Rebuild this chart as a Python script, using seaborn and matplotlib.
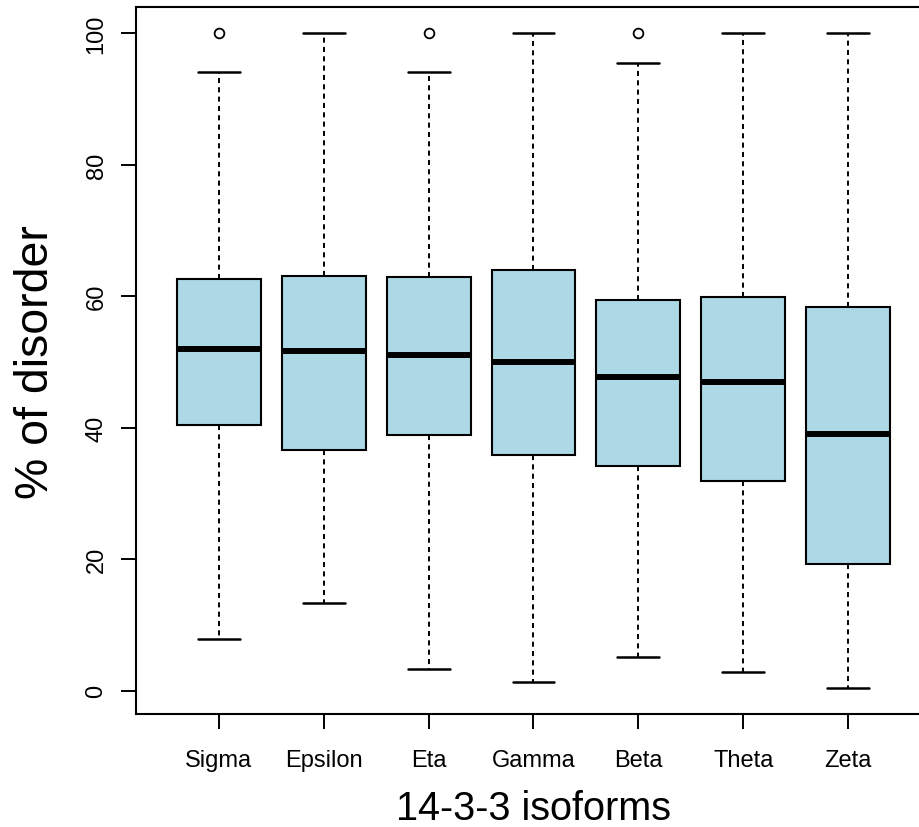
import numpy as np
import pandas as pd
import seaborn as sns
import matplotlib.pyplot as plt

# isoforms in plotting order
isoforms = ["Sigma", "Epsilon", "Eta", "Gamma", "Beta", "Theta", "Zeta"]

# box summaries (% of disorder)
whisker_lo = [7.9, 13.4, 3.25, 1.4, 5.2, 2.9, 0.4]
q1 = [40.4, 36.6, 38.9, 35.8, 34.2, 31.9, 19.3]
median = [51.9, 51.7, 51.1, 49.9, 47.7, 47.0, 39.0]
q3 = [62.6, 63.0, 62.9, 64.0, 59.4, 59.8, 58.4]
whisker_hi = [94.1, 100.0, 94.0, 100.0, 95.4, 100.0, 100.0]
outliers = [100.0, None, 100.0, None, 100.0, None, None]

# nine values per isoform whose quartiles match the summaries above
rows = []
for i, name in enumerate(isoforms):
    last = outliers[i] if outliers[i] is not None else whisker_hi[i]
    vals = [whisker_lo[i], q1[i], q1[i], median[i], median[i],
            q3[i], q3[i], whisker_hi[i], last]
    for v in vals:
        rows.append({"isoform": name, "disorder": v})
df = pd.DataFrame(rows)

sns.set_style("ticks")
plt.rcParams['font.family'] = ['Liberation Sans', 'DejaVu Sans']

fig = plt.figure(figsize=(9.19, 8.28), dpi=100)
ax = fig.add_axes([136 / 919, 113 / 828, 795 / 919, 706.7 / 828])

sns.boxplot(data=df, x="isoform", y="disorder", order=isoforms,
            color="lightblue", saturation=1, linecolor="black",
            linewidth=1.5, width=0.8, whis=1.5, ax=ax,
            medianprops=dict(linewidth=4.3, color="black"),
            whiskerprops=dict(linestyle=(0, (2.6, 2.2)), linewidth=1.4, color="black"),
            capprops=dict(linewidth=1.8, color="black"),
            flierprops=dict(marker="o", markerfacecolor="none",
                            markeredgecolor="black", markersize=7,
                            markeredgewidth=1.3))

ax.set_xlim(-0.788, 6.788)
ax.set_ylim(-3.54, 103.9)
ax.set_yticks([0, 20, 40, 60, 80, 100])

for side in ax.spines:
    ax.spines[side].set_color("black")
    ax.spines[side].set_linewidth(1.5)

ax.tick_params(axis="both", colors="black", length=10.5, width=1.4,
               labelsize=17)
ax.tick_params(axis="x", pad=15)
ax.tick_params(axis="y", pad=10)
plt.setp(ax.get_yticklabels(), rotation=90, va="center")

ax.set_xlabel("14-3-3 isoforms", fontsize=28.5, labelpad=13, color="black")
ax.set_ylabel("% of disorder", fontsize=33.5, labelpad=20, color="black")

fig.savefig("out.png", dpi=100)
